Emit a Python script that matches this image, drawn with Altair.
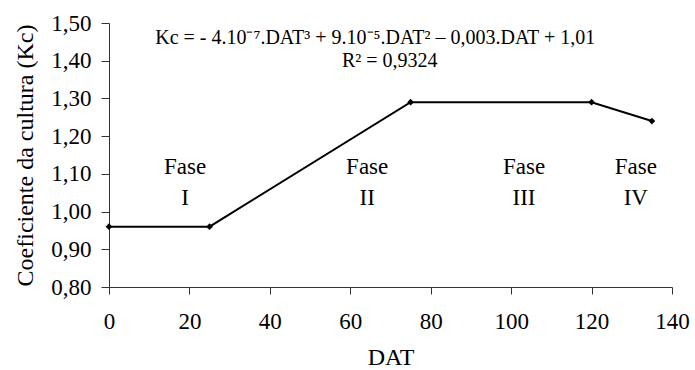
import altair as alt
import pandas as pd

dat = [0, 25, 75, 120, 135]
kc = [0.96, 0.96, 1.29, 1.29, 1.24]

fase_x = [18.9, 64.2, 103.2, 131.0]
fase_y = [1.118, 1.118, 1.118, 1.118]
fase_roman_y = [1.035, 1.035, 1.035, 1.035]
fase_top = ["Fase", "Fase", "Fase", "Fase"]
fase_num = ["I", "II", "III", "IV"]

eq_lines = ["Kc = - 4.10⁻⁷.DAT³ + 9.10⁻⁵.DAT² – 0,003.DAT + 1,01", "R² = 0,9324"]
eq_x = [66.2, 69.8]
eq_y = [1.461, 1.398]

FONT = "Liberation Serif, Times New Roman, serif"

df = pd.DataFrame({"DAT": dat, "Kc": kc})
fdf = pd.DataFrame({"x": fase_x, "y": fase_y, "y2": fase_roman_y, "t": fase_top, "n": fase_num})
edf = pd.DataFrame({"x": eq_x, "y": eq_y, "t": eq_lines})

xs = alt.Scale(domain=[0, 140], nice=False)
ys = alt.Scale(domain=[0.8, 1.5], nice=False)

x_enc = alt.X("DAT:Q", scale=xs, title="DAT",
              axis=alt.Axis(values=[0, 20, 40, 60, 80, 100, 120, 140], tickCount=20, grid=False,
                            tickSize=7, labelPadding=16, titlePadding=12, labelOverlap=False,
                            labelFontSize=23, titleFontSize=24, labelFont=FONT, titleFont=FONT,
                            titleFontWeight="normal", labelColor="black", titleColor="black",
                            domainColor="#333333", tickColor="#333333", labelFlush=False))
y_enc = alt.Y("Kc:Q", scale=ys, title="Coeficiente da cultura (Kc)",
              axis=alt.Axis(values=[0.8, 0.9, 1.0, 1.1, 1.2, 1.3, 1.4, 1.5], tickCount=20, grid=False,
                            format=".2f", labelExpr="replace(datum.label, '.', ',')",
                            tickSize=8, labelPadding=10, titlePadding=13, labelOverlap=False,
                            labelFontSize=23, titleFontSize=24, labelFont=FONT, titleFont=FONT,
                            titleFontWeight="normal", labelColor="black", titleColor="black",
                            domainColor="#333333", tickColor="#333333", labelFlush=False))

line = alt.Chart(df).mark_line(color="black", strokeWidth=2).encode(x=x_enc, y=y_enc)
pts = alt.Chart(df).mark_point(shape="diamond", filled=True, color="black", size=45, opacity=1).encode(
    x=alt.X("DAT:Q", scale=xs), y=alt.Y("Kc:Q", scale=ys))

f1 = alt.Chart(fdf).mark_text(font=FONT, fontSize=23, color="black").encode(
    x=alt.X("x:Q", scale=xs), y=alt.Y("y:Q", scale=ys), text="t:N")
f2 = alt.Chart(fdf).mark_text(font=FONT, fontSize=23, color="black").encode(
    x=alt.X("x:Q", scale=xs), y=alt.Y("y2:Q", scale=ys), text="n:N")
eq = alt.Chart(edf).mark_text(font=FONT, fontSize=20, color="black").encode(
    x=alt.X("x:Q", scale=xs), y=alt.Y("y:Q", scale=ys), text="t:N")

chart = (line + pts + f1 + f2 + eq).properties(
    width=563, height=264,
    autosize=alt.AutoSizeParams(type="none"),
    padding={"left": 109, "top": 23, "right": 23, "bottom": 83},
    background="white",
).configure_view(stroke=None)

chart.save("out.html", embed_options={"renderer": "svg", "actions": False})
